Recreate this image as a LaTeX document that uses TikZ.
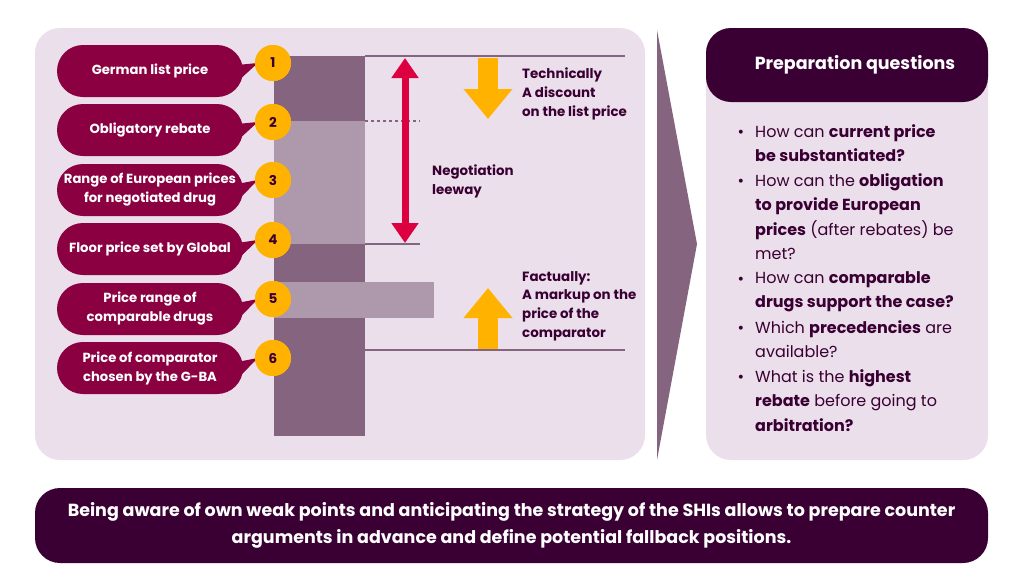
\documentclass[tikz,border=0pt]{standalone}
\usepackage{fontspec}
\setmainfont{Poppins}
\usetikzlibrary{calc,arrows.meta}

\definecolor{panel}{HTML}{EADFEA}
\definecolor{plum}{HTML}{3A0033}
\definecolor{berry}{HTML}{8A0041}
\definecolor{mauve}{HTML}{85647F}
\definecolor{lilac}{HTML}{AE98AB}
\definecolor{amber}{HTML}{FFB300}
\definecolor{signal}{HTML}{DC0040}

\tikzset{
  pill/.style={fill=berry, rounded corners=26, minimum width=186, minimum height=52,
    text=white, align=center, inner sep=0pt,
    font=\fontsize{13.2}{19}\selectfont\bfseries},
  badge/.style={circle, fill=amber, minimum size=36, inner sep=0pt, text=plum,
    font=\fontsize{13.5}{15}\selectfont\bfseries},
  note/.style={anchor=north west, align=left, inner sep=0pt, text=plum,
    font=\fontsize{13.4}{18.7}\selectfont\bfseries},
  ask/.style={anchor=north west, align=left, inner sep=0pt, text=plum,
    font=\fontsize{16}{24.5}\selectfont},
  dot/.style={anchor=base, inner sep=0pt, text=plum, font=\fontsize{16}{24.5}\selectfont},
  level/.style={mauve, line width=2pt},
}

\begin{document}
\begin{tikzpicture}[x=1pt,y=-1pt]

  \useasboundingbox (0,0) rectangle (1024,576);

  % Panels
  \fill [panel, rounded corners=25] (35,28) rectangle (645,460);
  \fill [mauve] (657,30) -- (697,244) -- (657,460) -- cycle;
  \fill [panel, rounded corners=25] (706,28) rectangle (988,460);

  %%%%%%%%%%%%%%%%%%%%%%%%%%%%%%%%%%%%%%%%%%%%%%%%%%%%%%%%%%%%%%%%%%%
  %% Price column
  %%%%%%%%%%%%%%%%%%%%%%%%%%%%%%%%%%%%%%%%%%%%%%%%%%%%%%%%%%%%%%%%%%%

  \fill [mauve] (274,56) rectangle (365,436);
  \fill [lilac] (274,121) rectangle (365,244);   % European prices
  \fill [lilac] (274,282) rectangle (434,318);   % comparable drugs

  % Levels
  \draw [level] (365,56) -- (625,56);
  \draw [level, dashed, line width=1.2pt] (365,121) -- (420,121);
  \draw [level] (365,244) -- (420,244);
  \draw [level] (365,350) -- (625,350);

  % Negotiation leeway
  \draw [signal, line width=7pt, {Triangle[width=26pt,length=20pt]}-{Triangle[width=26pt,length=20pt]}]
    (405,58) -- (405,243);
  \node [note] (leeway) at (432,165) {Negotiation\\leeway};

  % Discount and markup
  \draw [amber, line width=20pt, -{Triangle[width=47pt,length=30pt]}] (488,58) -- (488,119);
  \draw [amber, line width=20pt, -{Triangle[width=47pt,length=30pt]}] (488,349) -- (488,288);
  \node [note] (discount) at (522,68) {Technically\\A discount\\on the list price};
  \node [note] (markup) at (522,271) {Factually:\\A markup on the\\price of the\\comparator};

  %%%%%%%%%%%%%%%%%%%%%%%%%%%%%%%%%%%%%%%%%%%%%%%%%%%%%%%%%%%%%%%%%%%
  %% Callouts
  %%%%%%%%%%%%%%%%%%%%%%%%%%%%%%%%%%%%%%%%%%%%%%%%%%%%%%%%%%%%%%%%%%%

  \foreach \n/\y/\ny/\txt in {1/70/63/{German list price},
                             2/129/122/{Obligatory rebate},
                             3/189/180/{Range of European prices\\for negotiated drug},
                             4/248/240/{Floor price set by Global},
                             5/308/299/{Price range of\\comparable drugs},
                             6/367/358/{Price of comparator\\chosen by the G-BA}}
  {
    \node [pill] (c\n) at (150,\y+1) {\txt};
    \node [badge] (n\n) at (273,\ny) {};
    \fill [berry] ($(c\n.east)+(-6,-6)$) -- ($(n\n.west)+(3,0)$) -- ($(c\n.east)+(-4,9)$) -- cycle;
    \node [badge] at (n\n) {\n};
  }

  %%%%%%%%%%%%%%%%%%%%%%%%%%%%%%%%%%%%%%%%%%%%%%%%%%%%%%%%%%%%%%%%%%%
  %% Preparation questions
  %%%%%%%%%%%%%%%%%%%%%%%%%%%%%%%%%%%%%%%%%%%%%%%%%%%%%%%%%%%%%%%%%%%

  \node [fill=plum, rounded corners=25, minimum width=282, minimum height=74, inner sep=0pt,
         text=white, font=\fontsize{17.5}{20}\selectfont\bfseries] (head) at (847,65)
    {\hspace*{16pt}Preparation questions};

  \foreach \q/\y/\txt in {1/131/{How can \textbf{current price}\\\textbf{be substantiated?}},
                          2/180/{How can the \textbf{obligation}\\\textbf{to provide European}\\\textbf{prices} (after rebates) be\\met?},
                          3/278/{How can \textbf{comparable}\\\textbf{drugs support the case?}},
                          4/327/{Which \textbf{precedencies} are\\available?},
                          5/376/{What is the \textbf{highest}\\\textbf{rebate} before going to\\\textbf{arbitration?}}}
  {
    \node [dot] (b\q) at (741,\y+6) {\textbullet};
    \node [ask] (q\q) at (755,\y-7) {\txt};
  }

  %%%%%%%%%%%%%%%%%%%%%%%%%%%%%%%%%%%%%%%%%%%%%%%%%%%%%%%%%%%%%%%%%%%
  %% Bottom line
  %%%%%%%%%%%%%%%%%%%%%%%%%%%%%%%%%%%%%%%%%%%%%%%%%%%%%%%%%%%%%%%%%%%

  \node [fill=plum, rounded corners=25, minimum width=953, minimum height=75, inner sep=0pt,
         text=white, align=center, font=\fontsize{17.5}{27}\selectfont\bfseries] (banner) at (511.5,525.5)
    {Being aware of own weak points and anticipating the strategy of the SHIs allows to prepare counter\\
     arguments in advance and define potential fallback positions.};

\end{tikzpicture}
\end{document}
